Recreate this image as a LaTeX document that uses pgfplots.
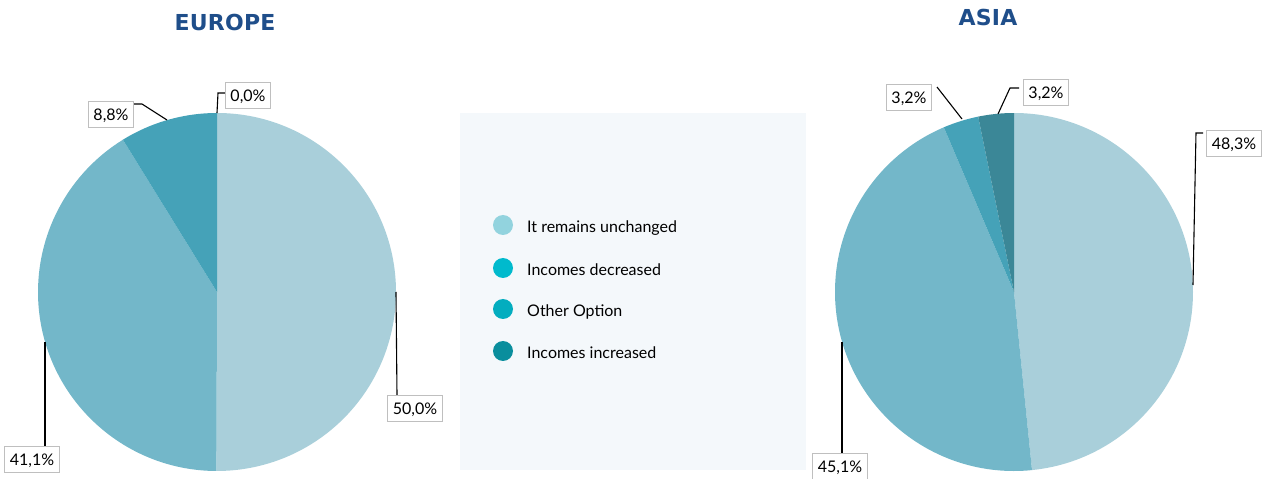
\documentclass[border=0pt]{standalone}
\usepackage{fontspec}
\setmainfont{Lato}
\newfontfamily\titlefont[LetterSpace=1]{DejaVu Sans}
\usepackage{pgfplots}
\pgfplotsset{compat=1.18}
\definecolor{sA}{HTML}{A9CFDA}
\definecolor{sB}{HTML}{73B7C9}
\definecolor{sC}{HTML}{45A2B8}
\definecolor{sD}{HTML}{3B8797}
\definecolor{lA}{HTML}{92D3DE}
\definecolor{lB}{HTML}{00BACD}
\definecolor{lC}{HTML}{03ADBF}
\definecolor{lD}{HTML}{0A8E9D}
\definecolor{legbg}{HTML}{F4F8FB}
\definecolor{titleblue}{HTML}{1F4E8A}
\definecolor{boxgray}{HTML}{BFBFBF}
% \slice{cx}{cy}{cumulative percent before}{percent}{total}{colour}
\newcommand\slice[6]{\fill[#6] (axis cs:#1,#2) -- ++({90-(#3)*(360/(#5))}:179bp) arc[start angle={90-(#3)*(360/(#5))}, delta angle={-(#4)*(360/(#5))}, radius=179bp] -- cycle;}
\tikzset{lbl/.style={draw=boxgray, line width=0.8bp, fill=white, inner xsep=5bp, inner ysep=7bp, text height=12bp, text depth=0bp, font=\fontsize{16bp}{18bp}\selectfont},
lead/.style={black, line width=1.1bp}}
\begin{document}
\begin{tikzpicture}
\useasboundingbox (0,0) rectangle (1269bp,479bp);
\begin{axis}[x=1bp, y=1bp, xmin=0, xmax=1269, ymin=0, ymax=479, hide axis, clip=false]
% Europe: 50.0, 41.1, 8.8, 0.0  (total 99.9)
\slice{217}{187}{0}{50.0}{99.9}{sA}
\slice{217}{187}{50.0}{41.1}{99.9}{sB}
\slice{217}{187}{50.0+41.1}{8.8}{99.9}{sC}
% Asia: 48.3, 45.1, 3.2, 3.2  (total 99.8)
\slice{1014}{187}{0}{48.3}{99.8}{sA}
\slice{1014}{187}{48.3}{45.1}{99.8}{sB}
\slice{1014}{187}{48.3+45.1}{3.2}{99.8}{sC}
\slice{1014}{187}{48.3+45.1+3.2}{3.2}{99.8}{sD}
% titles
\node[font=\titlefont\bfseries\fontsize{22bp}{26bp}\selectfont, text=titleblue] at (axis cs:225,457) {EUROPE};
\node[font=\titlefont\bfseries\fontsize{22bp}{26bp}\selectfont, text=titleblue] at (axis cs:988,462) {ASIA};
% legend panel
\fill[legbg] (axis cs:460,9) rectangle (axis cs:806,366);
\fill[lA] (axis cs:503,254) circle[radius=10bp];
\fill[lB] (axis cs:503,211) circle[radius=10bp];
\fill[lC] (axis cs:503,170) circle[radius=10bp];
\fill[lD] (axis cs:503,128) circle[radius=10bp];
\begin{scope}[every node/.style={anchor=base west, inner sep=0pt, font=\fontsize{16bp}{18bp}\selectfont}]
\node at (axis cs:527,247) {It remains unchanged};
\node at (axis cs:527,204) {Incomes decreased};
\node at (axis cs:527,163) {Other Option};
\node at (axis cs:527,121) {Incomes increased};
\end{scope}
% Europe labels
\draw[lead] (axis cs:396,187) -- (axis cs:397,84);
\node[lbl] at (axis cs:415,71) {50,0\%};
\draw[lead] (axis cs:45,137) -- (axis cs:45,33);
\node[lbl] at (axis cs:32,20) {41,1\%};
\draw[lead] (axis cs:167,359) -- (axis cs:142,375) -- (axis cs:134,375);
\node[lbl] at (axis cs:111,365) {8,8\%};
\draw[lead] (axis cs:217,366) -- (axis cs:218,386) -- (axis cs:227,386);
\node[lbl] at (axis cs:248,384) {0,0\%};
% Asia labels
\draw[lead] (axis cs:1193,194) -- (axis cs:1196,346) -- (axis cs:1203,346);
\node[lbl] at (axis cs:1234,336) {48,3\%};
\draw[lead] (axis cs:842,137) -- (axis cs:842,26);
\node[lbl] at (axis cs:840,13) {45,1\%};
\draw[lead] (axis cs:962,360) -- (axis cs:937,392);
\node[lbl] at (axis cs:909,382) {3,2\%};
\draw[lead] (axis cs:998,365) -- (axis cs:1010,391) -- (axis cs:1019,391);
\node[lbl] at (axis cs:1046,387) {3,2\%};
\end{axis}
\end{tikzpicture}
\end{document}
